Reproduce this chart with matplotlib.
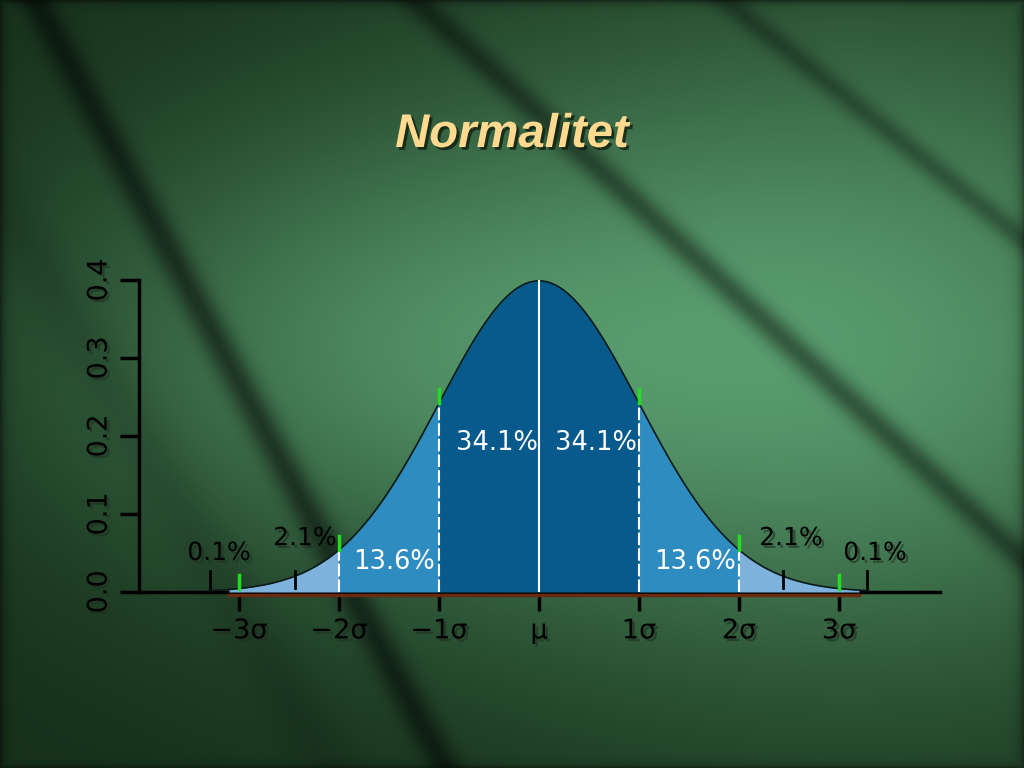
import numpy as np
import matplotlib.pyplot as plt
import matplotlib.patheffects as pe

# chart values
sigma_ticks = [-3, -2, -1, 0, 1, 2, 3]
sigma_labels = ['\u22123\u03c3', '\u22122\u03c3', '\u22121\u03c3', '\u03bc', '1\u03c3', '2\u03c3', '3\u03c3']
y_ticks = [0.0, 0.1, 0.2, 0.3, 0.4]
band_edges = [-3.1, -2, -1, 0, 1, 2, 3.2]
band_colors = ['#7eb1dc', '#2f8cc1', '#085a8c', '#085a8c', '#2f8cc1', '#7eb1dc']
big_labels = [(-0.42, 0.191, '34.1%'), (0.57, 0.191, '34.1%'),
              (-1.45, 0.038, '13.6%'), (1.56, 0.038, '13.6%')]
tail_labels = [(-2.34, 0.069, '2.1%', -2.44), (2.52, 0.069, '2.1%', 2.44),
               (-3.2, 0.050, '0.1%', -3.29), (3.36, 0.050, '0.1%', 3.28)]

W, H = 1024, 768
fig = plt.figure(figsize=(W / 100, H / 100), dpi=100)

# background: green gradient with dark diagonal streaks
yy, xx = np.mgrid[0:H, 0:W]
u = xx / W
v = yy / H
light = np.exp(-(((u - 0.85) / 0.45) ** 2 + ((v - 0.45) / 0.45) ** 2))
light += 0.6 * np.exp(-(((u - 0.35) / 0.35) ** 2 + ((v - 0.45) / 0.3) ** 2))
light = np.clip(light, 0, 1.2)
base_dark = np.array([22, 48, 26]) / 255
base_light = np.array([94, 164, 116]) / 255
img = base_dark + (base_light - base_dark) * light[..., None] / 1.2


def streak(x0, y0, x1, y1, width, depth):
    dx, dy = x1 - x0, y1 - y0
    n = np.hypot(dx, dy)
    d = np.abs((xx - x0) * dy - (yy - y0) * dx) / n
    return 1 - depth * np.exp(-(d / width) ** 2)


shade = streak(35, 0, 445, 768, 16, 0.5)
shade *= streak(415, 0, 1024, 560, 14, 0.42)
shade *= streak(725, 0, 1024, 240, 12, 0.32)
shade *= streak(0, 200, 330, 768, 30, 0.12)
edge = np.minimum.reduce([u, 1 - u, v, 1 - v])
shade *= 1 - 0.45 * np.exp(-edge / 0.005)
img = img * shade[..., None]

bg = fig.add_axes([0, 0, 1, 1])
bg.imshow(np.clip(img, 0, 1), aspect='auto', interpolation='bilinear')
bg.axis('off')

fig.text(0.5, 1 - 135 / H, 'Normalitet', ha='center', va='center',
         fontsize=34, fontweight='bold', fontstyle='italic',
         family='Liberation Sans', color='#ffd98f',
         path_effects=[pe.withSimplePatchShadow(offset=(2, -2), shadow_rgbFace='#102010', alpha=0.8)])

ax = fig.add_axes([139 / W, 1 - 592 / H, (940 - 139) / W, (592 - 280) / H])
ax.patch.set_alpha(0)

shadow = [pe.withSimplePatchShadow(offset=(2, -2), shadow_rgbFace='#203020', alpha=0.6)]


def pdf(x):
    return np.exp(-x ** 2 / 2) / np.sqrt(2 * np.pi)


for i in range(len(band_colors)):
    xs = np.linspace(band_edges[i], band_edges[i + 1], 100)
    ax.fill_between(xs, 0, pdf(xs), color=band_colors[i], lw=0, zorder=2)

xc = np.linspace(-3.3, 3.3, 400)
ax.plot(xc, pdf(xc), color='#0a1a1a', lw=1.2, zorder=3)
ax.plot([-3.1, 3.2], [-0.004, -0.004], color='#6a2a10', lw=2.5, zorder=2, clip_on=False)

for s in [-2, -1, 1, 2]:
    ax.plot([s, s], [0, pdf(s)], color='white', lw=1.5, ls=(0, (6, 1.5)), zorder=4)
ax.plot([0, 0], [0, pdf(0)], color='white', lw=1.5, zorder=4)

for s in [-3, -2, -1, 1, 2, 3]:
    ax.plot([s, s], [pdf(s), pdf(s) + 0.018], color='#22dd22', lw=2.5, zorder=5)

for x, y, t in big_labels:
    ax.text(x, y, t, ha='center', va='center', color='white', fontsize=18.5, zorder=6)

for x, y, t, tx in tail_labels:
    ax.text(x, y, t, ha='center', va='center', color='black', fontsize=18,
            zorder=6, path_effects=shadow)
    ax.plot([tx, tx], [0.005, 0.027], color='black', lw=2, zorder=6)

ax.set_xlim(-4, 4.01)
ax.set_ylim(0, 0.4)
ax.set_xticks(sigma_ticks)
ax.set_xticklabels(sigma_labels)
ax.set_yticks(y_ticks)
ax.set_yticklabels(['%.1f' % t for t in y_ticks], rotation=90, va='center')
for sp in ['top', 'right']:
    ax.spines[sp].set_visible(False)
for sp in ['left', 'bottom']:
    ax.spines[sp].set_linewidth(2.5)
    ax.spines[sp].set_color('black')
ax.spines['bottom'].set_zorder(1)
ax.tick_params(axis='both', width=2.5, length=14, labelsize=19.5, colors='black', pad=5)
ax.tick_params(axis='x', direction='out')
for lab in ax.get_xticklabels() + ax.get_yticklabels():
    lab.set_path_effects(shadow)

fig.savefig('out.png', dpi=100)
